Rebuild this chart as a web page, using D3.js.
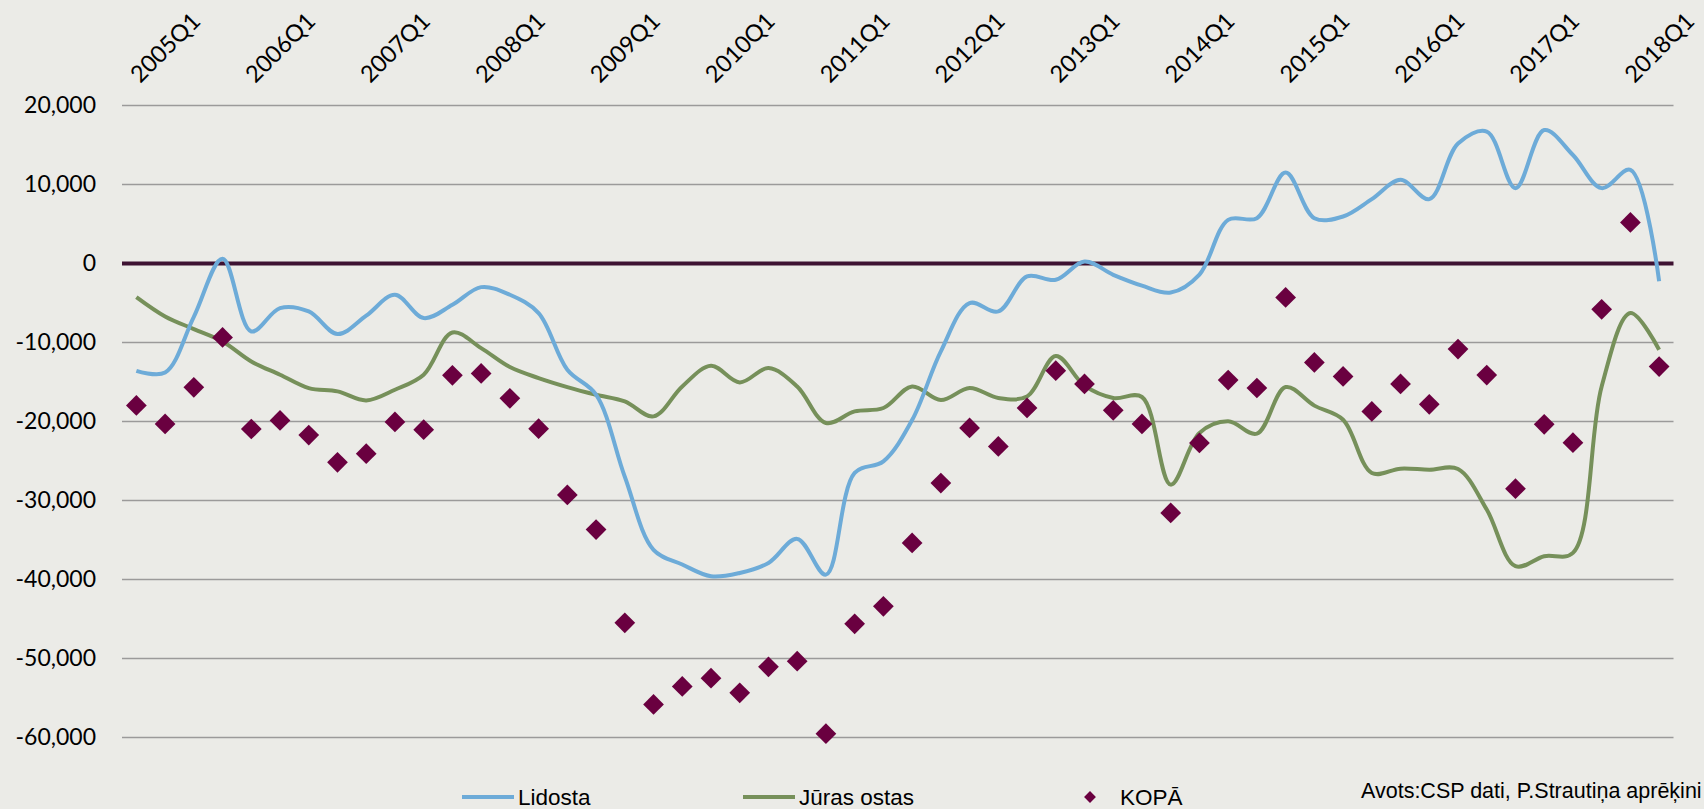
<!DOCTYPE html>
<html>
<head>
<meta charset="utf-8">
<script src="https://cdn.jsdelivr.net/npm/d3@7"></script>
<style>
    body { margin: 0; background: #ebebe7; }
    svg { display: block; }
</style>
</head>
<body>
<svg id="chart"></svg>
<script>
var quarters = [
    '2005Q1','2005Q2','2005Q3','2005Q4','2006Q1','2006Q2','2006Q3','2006Q4',
    '2007Q1','2007Q2','2007Q3','2007Q4','2008Q1','2008Q2','2008Q3','2008Q4',
    '2009Q1','2009Q2','2009Q3','2009Q4','2010Q1','2010Q2','2010Q3','2010Q4',
    '2011Q1','2011Q2','2011Q3','2011Q4','2012Q1','2012Q2','2012Q3','2012Q4',
    '2013Q1','2013Q2','2013Q3','2013Q4','2014Q1','2014Q2','2014Q3','2014Q4',
    '2015Q1','2015Q2','2015Q3','2015Q4','2016Q1','2016Q2','2016Q3','2016Q4',
    '2017Q1','2017Q2','2017Q3','2017Q4','2018Q1','2018Q2'
];

var lidosta = [
    -13580, -13800, -6750, 600, -8600, -5640, -6070, -8930,
    -6610, -3960, -6910, -5230, -2990, -3960, -6280, -13450,
    -16600, -26990, -36240, -38100, -39590, -39170, -37900, -34860,
    -39380, -26510, -25040, -19820, -11130, -5010, -6070, -1640,
    -2060, 250, -1430, -2800, -3670, -1400, 5530, 5740,
    11510, 5740, 5950, 8150, 10590, 8150, 15180, 16700,
    9540, 16890, 13730, 9540, 11850, -2240
];

var jurasOstas = [
    -4250, -6700, -8300, -9870, -12400, -14080, -15770, -16190,
    -17330, -15980, -14080, -8730, -10710, -13110, -14500, -15640,
    -16610, -17460, -19350, -15560, -12940, -15050, -13240, -15560,
    -20190, -18720, -18290, -15560, -17290, -15770, -17020, -16820,
    -11720, -15470, -17020, -16900, -27990, -21450, -19980, -21540,
    -15640, -17990, -19770, -26510, -25970, -26100, -26010, -31150,
    -38320, -37050, -36630, -15560, -6270, -10920
];

var kopa = [
    -17960, -20310, -15680, -9360, -20950, -19860, -21710, -25170,
    -24070, -20060, -21030, -14160, -13910, -17070, -20910, -29300,
    -33680, -45480, -55820, -53540, -52490, -54340, -51050, -50340,
    -59520, -45610, -43390, -35370, -27790, -20820, -23150, -18290,
    -13570, -15250, -18590, -20310, -31570, -22720, -14750, -15760,
    -4300, -12520, -14290, -18720, -15250, -17830, -10830, -14120,
    -28500, -20360, -22680, -5800, 5200, -13040
];

var yTicks = [-60000, -50000, -40000, -30000, -20000, -10000, 0, 10000, 20000];
var xLabels = ['2005Q1','2006Q1','2007Q1','2008Q1','2009Q1','2010Q1','2011Q1',
    '2012Q1','2013Q1','2014Q1','2015Q1','2016Q1','2017Q1','2018Q1'];
var seriesNames = ['Lidosta', 'Jūras ostas', 'KOPĀ'];
var sourceText = 'Avots:CSP dati, P.Strautiņa aprēķini';

var colors = {
    bg: '#ebebe7',
    grid: '#9b9a9a',
    zero: '#3e1232',
    lidosta: '#6dabd8',
    juras: '#76905a',
    kopa: '#6a0040'
};

var width = 1704,
    height = 809,
    plotLeft = 122,
    plotRight = 1673.5,
    plotTop = 105.5,
    plotBottom = 737.5;

var svg = d3.select('#chart')
    .attr('width', width)
    .attr('height', height);

svg.append('rect')
    .attr('width', width)
    .attr('height', height)
    .attr('fill', colors.bg);

var x = d3.scaleBand()
    .domain(quarters)
    .range([plotLeft, plotRight])
    .padding(0);

var y = d3.scaleLinear()
    .domain([-60000, 20000])
    .range([plotBottom, plotTop]);

function cx(i) { return x(quarters[i]) + x.bandwidth() / 2; }

// plain hyphen for negatives, like the spreadsheet does
var fmt = d3.formatLocale({
    decimal: '.', thousands: ',', grouping: [3], currency: ['', ''], minus: '-'
}).format(',');

// gridlines (zero gets its own heavy line below)
svg.append('g')
    .attr('class', 'grid')
    .selectAll('line')
    .data(yTicks.filter(function(d) { return d !== 0; }))
    .join('line')
    .attr('x1', plotLeft)
    .attr('x2', plotRight)
    .attr('y1', function(d) { return y(d); })
    .attr('y2', function(d) { return y(d); })
    .attr('stroke', colors.grid)
    .attr('stroke-width', 1.5);

var yAxis = svg.append('g')
    .attr('class', 'y-axis')
    .attr('transform', 'translate(' + plotLeft + ',0)')
    .call(d3.axisLeft(y)
        .tickValues(yTicks)
        .tickFormat(fmt)
        .tickSize(0)
        .tickPadding(26));
yAxis.select('.domain').remove();
yAxis.selectAll('text')
    .attr('font-family', 'Lato, "Open Sans", sans-serif')
    .attr('font-size', '23px')
    .attr('fill', '#000');

var xAxis = svg.append('g')
    .attr('class', 'x-axis')
    .attr('transform', 'translate(0,84)')
    .call(d3.axisTop(x)
        .tickValues(xLabels)
        .tickSize(0)
        .tickPadding(0));
xAxis.select('.domain').remove();
xAxis.selectAll('text')
    .attr('font-family', 'Lato, "Open Sans", sans-serif')
    .attr('font-size', '23.5px')
    .attr('fill', '#000')
    .attr('text-anchor', 'start')
    .attr('x', 0)
    .attr('y', 0)
    .attr('dy', 0)
    .attr('transform', 'translate(4,0) rotate(-45)');

svg.append('line')
    .attr('class', 'zero')
    .attr('x1', plotLeft)
    .attr('x2', plotRight)
    .attr('y1', y(0))
    .attr('y2', y(0))
    .attr('stroke', colors.zero)
    .attr('stroke-width', 4);

var line = d3.line()
    .x(function(d, i) { return cx(i); })
    .y(function(d) { return y(d); })
    .curve(d3.curveCatmullRom.alpha(0.5));

svg.append('path')
    .datum(jurasOstas)
    .attr('d', line)
    .attr('fill', 'none')
    .attr('stroke', colors.juras)
    .attr('stroke-width', 4);

svg.append('path')
    .datum(lidosta)
    .attr('d', line)
    .attr('fill', 'none')
    .attr('stroke', colors.lidosta)
    .attr('stroke-width', 4);

var diamond = d3.symbol().type(d3.symbolSquare).size(215);

svg.append('g')
    .attr('class', 'kopa')
    .selectAll('path')
    .data(kopa)
    .join('path')
    .attr('d', diamond)
    .attr('transform', function(d, i) {
        return 'translate(' + cx(i) + ',' + y(d) + ') rotate(45)';
    })
    .attr('fill', colors.kopa);

// legend
var legend = svg.append('g')
    .attr('class', 'legend')
    .attr('font-family', '"Liberation Sans", Arial, sans-serif')
    .attr('font-size', '22.5px');

var legendY = 797;
var legendItems = [
    {name: seriesNames[0], x: 462, kind: 'line', color: colors.lidosta},
    {name: seriesNames[1], x: 743, kind: 'line', color: colors.juras},
    {name: seriesNames[2], x: 1083, kind: 'dot', color: colors.kopa}
];

legendItems.forEach(function(item) {
    if (item.kind === 'line') {
        legend.append('line')
            .attr('x1', item.x)
            .attr('x2', item.x + 52)
            .attr('y1', legendY)
            .attr('y2', legendY)
            .attr('stroke', item.color)
            .attr('stroke-width', 4);
        legend.append('text')
            .attr('x', item.x + 56)
            .attr('y', legendY + 8)
            .text(item.name);
    }
    else {
        legend.append('path')
            .attr('d', d3.symbol().type(d3.symbolSquare).size(70))
            .attr('transform', 'translate(' + (item.x + 7) + ',' + legendY + ') rotate(45)')
            .attr('fill', item.color);
        legend.append('text')
            .attr('x', item.x + 37)
            .attr('y', legendY + 8)
            .text(item.name);
    }
});

svg.append('text')
    .attr('class', 'source')
    .attr('x', 1361)
    .attr('y', 798)
    .attr('font-family', '"Liberation Sans", Arial, sans-serif')
    .attr('font-size', '21.5px')
    .attr('fill', '#000')
    .text(sourceText);
</script>
</body>
</html>
